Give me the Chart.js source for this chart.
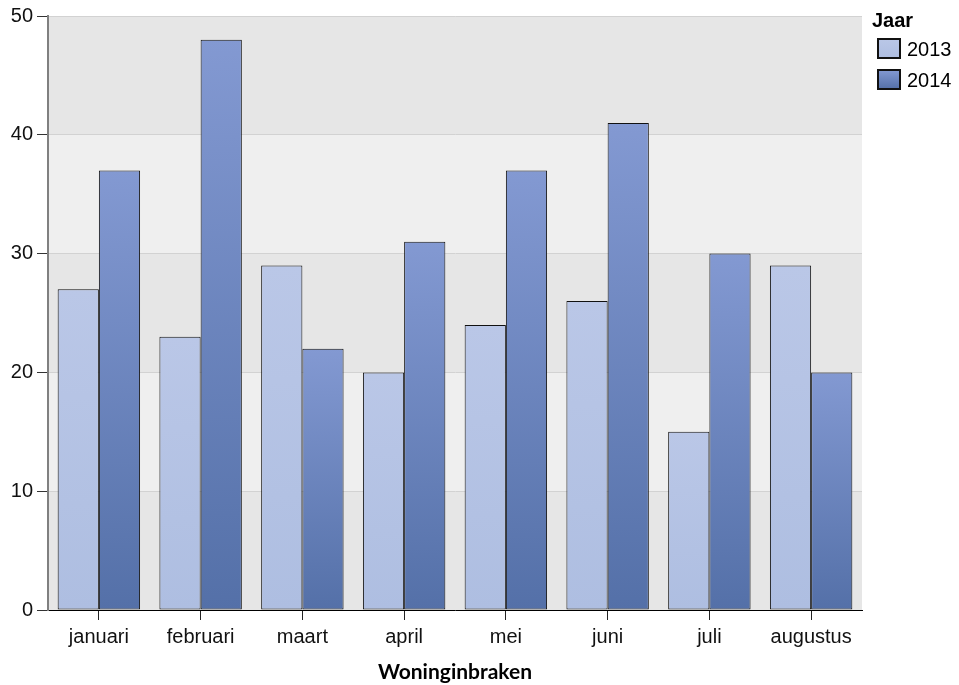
<!DOCTYPE html>
<html>
<head>
<meta charset="utf-8">
<script src="https://cdn.jsdelivr.net/npm/chart.js@4/dist/chart.umd.min.js"></script>
<style>
html,body{margin:0;padding:0;background:#fff;}
#wrap{width:959px;height:685px;position:relative;}
</style>
</head>
<body>
<div id="wrap"><canvas id="c" width="959" height="685"></canvas></div>
<script>
const categories = ['januari','februari','maart','april','mei','juni','juli','augustus'];
const values2013 = [27,23,29,20,24,26,15,29];
const values2014 = [37,48,22,31,37,41,30,20];
const seriesNames = ['2013','2014'];
const yTicks = [0,10,20,30,40,50];
const legendTitle = 'Jaar';
const xTitle = 'Woninginbraken';

const SANS = "'Liberation Sans', Arimo, Arial, Helvetica, sans-serif";

const grad = {
  '2013': ['#bac7e7','#aebee1'],
  '2014': ['#8399d2','#5470a8']
};

function barGradient(name){
  return function(ctx){
    const chart = ctx.chart;
    const y = chart.scales && chart.scales.y;
    if(!y || ctx.type !== 'data') return grad[name][1];
    const v = ctx.raw;
    const top = y.getPixelForValue(v);
    const bot = y.getPixelForValue(0);
    if(!isFinite(top) || !isFinite(bot) || top === bot) return grad[name][1];
    const g = chart.ctx.createLinearGradient(0, top, 0, bot);
    g.addColorStop(0, grad[name][0]);
    g.addColorStop(1, grad[name][1]);
    return g;
  };
}

const bandsPlugin = {
  id:'bands',
  beforeDraw(chart){
    const {ctx, chartArea:a, scales:{y}} = chart;
    ctx.save();
    for(let i=0;i<yTicks.length-1;i++){
      const y0 = y.getPixelForValue(yTicks[i]);
      const y1 = y.getPixelForValue(yTicks[i+1]);
      ctx.fillStyle = (i%2===0) ? '#e6e6e6' : '#efefef';
      ctx.fillRect(a.left, y1, a.right-a.left, y0-y1);
    }
    ctx.restore();
  }
};

const legendPlugin = {
  id:'customLegend',
  afterDraw(chart){
    const ctx = chart.ctx;
    ctx.save();
    ctx.fillStyle = '#000';
    ctx.textBaseline = 'alphabetic';
    ctx.textAlign = 'left';
    ctx.font = "bold 20px " + SANS;
    ctx.fillText(legendTitle, 872, 27);
    ctx.font = "20px " + SANS;
    seriesNames.forEach((n,i)=>{
      const bx = 878, by = 39 + i*31, bw = 22, bh = 19;
      const g = ctx.createLinearGradient(0, by, 0, by+bh);
      g.addColorStop(0, grad[n][0]);
      g.addColorStop(1, grad[n][1]);
      ctx.fillStyle = g;
      ctx.fillRect(bx, by, bw, bh);
      ctx.lineWidth = 2;
      ctx.strokeStyle = '#111';
      ctx.strokeRect(bx, by, bw, bh);
      ctx.fillStyle = '#000';
      ctx.fillText(n, 907, by + 17);
    });
    ctx.restore();
  }
};

function build(){
  new Chart(document.getElementById('c'), {
    type:'bar',
    data:{
      labels: categories,
      datasets:[
        {label: seriesNames[0], data: values2013, backgroundColor: barGradient('2013'), borderColor:'#111', borderWidth:1, borderSkipped:false},
        {label: seriesNames[1], data: values2014, backgroundColor: barGradient('2014'), borderColor:'#111', borderWidth:1, borderSkipped:false}
      ]
    },
    options:{
      responsive:false,
      animation:false,
      devicePixelRatio:1,
      layout:{padding:{left:0, right:97, top:16, bottom:0}},
      plugins:{legend:{display:false}, tooltip:{enabled:false}},
      datasets:{bar:{barPercentage:1.0, categoryPercentage:0.81}},
      scales:{
        x:{
          grid:{offset:false, drawOnChartArea:false, drawTicks:true, tickLength:10, tickColor:'#222', lineWidth:1},
          border:{display:true, color:'#000', width:1},
          ticks:{color:'#111', font:{family:SANS, size:20}, padding:5, maxRotation:0, autoSkip:false},
          title:{display:true, text:xTitle, color:'#000', font:{family:"Lato, 'Open Sans', sans-serif", size:21, weight:'bold'}, padding:{top:2, bottom:0}},
          afterFit(s){ s.height = 75; }
        },
        y:{
          min:0, max:50,
          afterBuildTicks(s){ s.ticks = yTicks.map(v=>({value:v})); },
          grid:{color:'#d2d2d2', lineWidth:1, tickLength:11, tickColor:'#333', drawTicks:true},
          border:{display:true, color:'#808080', width:2},
          ticks:{color:'#111', font:{family:SANS, size:20}, padding:4},
          afterFit(s){ s.width = 48; }
        }
      }
    },
    plugins:[bandsPlugin, legendPlugin]
  });
}
const loads = [document.fonts.load("18px 'Liberation Sans'"), document.fonts.load("bold 18px 'Liberation Sans'"), document.fonts.load("bold 20px Lato")];
Promise.all(loads).then(build, build);
</script>
</body>
</html>
